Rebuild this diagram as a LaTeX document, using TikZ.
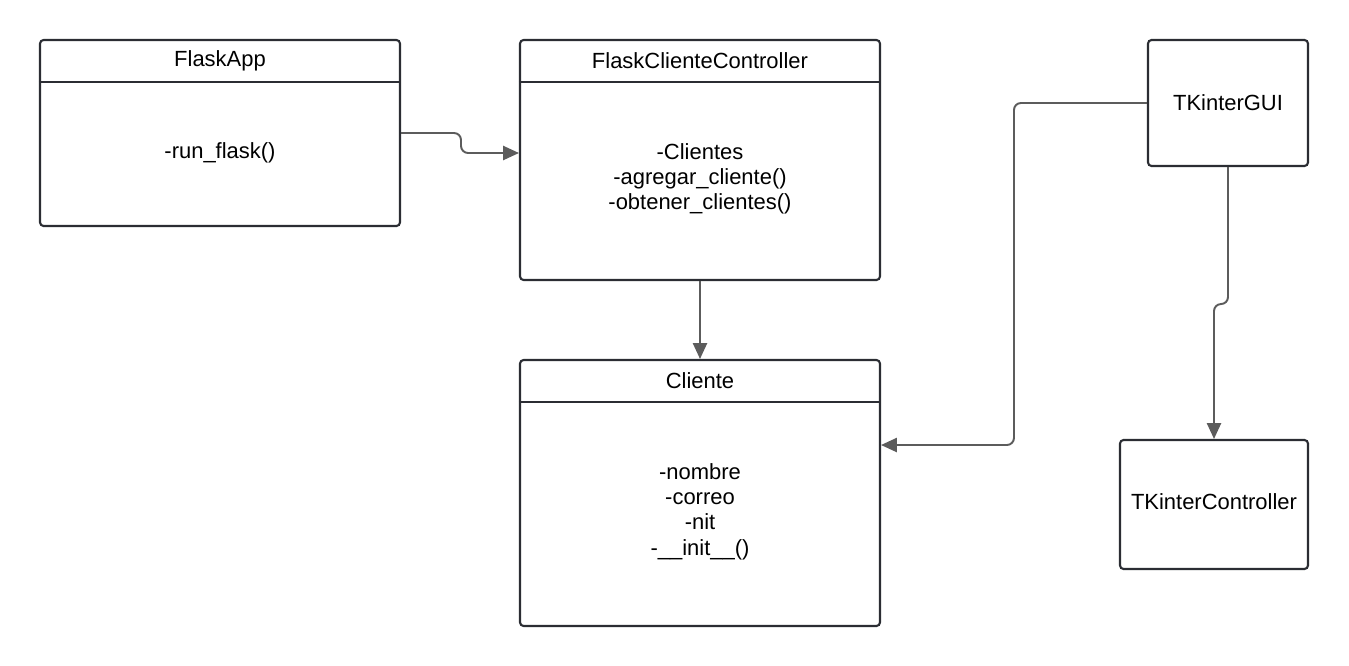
\documentclass[tikz,border=0pt]{standalone}
\usepackage{fontspec}
\setmainfont{Liberation Sans}
\usetikzlibrary{arrows.meta}

\definecolor{boxline}{HTML}{2B2D33}
\definecolor{linkgray}{HTML}{5C5C5C}

\tikzset{
  classbox/.style = {draw = boxline, line width = 1.2pt, rounded corners = 2pt, inner sep = 0pt},
  headline/.style = {draw = boxline, line width = 1.2pt},
  link/.style = {draw = linkgray, line width = 1.1pt, rounded corners = 4pt,
                 -{Triangle[length = 9pt, width = 8pt]}},
  txt/.style = {align = center, inner sep = 0pt, font = \fontsize{12.5}{14.4}\selectfont},
}

\begin{document}
\begin{tikzpicture} [x = 0.02cm, y = -0.02cm]
			\useasboundingbox (0,0) rectangle (1349,666);

			% classes
			\node [classbox, minimum width = 7.2cm, minimum height = 3.72cm] (flaskapp) at (220,133) {};
			\node [classbox, minimum width = 7.2cm, minimum height = 4.8cm] (controller) at (700,160) {};
			\node [classbox, minimum width = 7.2cm, minimum height = 5.32cm] (cliente) at (700,493) {};
			\node [classbox, minimum width = 3.2cm, minimum height = 2.52cm] (gui) at (1228,103) {};
			\node [classbox, minimum width = 3.76cm, minimum height = 2.58cm] (tkctrl) at (1214,504.5) {};

			\draw [headline] ([yshift = -0.86cm]flaskapp.north west) to ([yshift = -0.86cm]flaskapp.north east);
			\draw [headline] ([yshift = -0.86cm]controller.north west) to ([yshift = -0.86cm]controller.north east);
			\draw [headline] ([yshift = -0.86cm]cliente.north west) to ([yshift = -0.86cm]cliente.north east);

			\node [txt] (flaskapptitle) at ([yshift = -0.43cm]flaskapp.north) {FlaskApp};
			\node [txt] (controllertitle) at ([yshift = -0.43cm]controller.north) {FlaskClienteController};
			\node [txt] (clientetitle) at ([yshift = -0.43cm]cliente.north) {Cliente};

			\node [txt] (flaskappbody) at (220,153) {-run\_flask()};
			\node [txt] (controllerbody) at (700,179) {-Clientes\\-agregar\_cliente()\\-obtener\_clientes()};
			\node [txt] (clientebody) at (700,511.5) {-nombre\\-correo\\-nit\\-\_\_init\_\_()};
			\node [txt] (guititle) at (gui) {TKinterGUI};
			\node [txt] (tkctrltitle) at (1214,501.5) {TKinterController};

			% connectors
			\coordinate (ctrlin) at ([yshift = 0.14cm]controller.west);
			\coordinate (clientein) at ([yshift = 0.96cm]cliente.east);

			\draw [link] (flaskapp.east) -- ++(60,0) -- ++(0,20) -- (ctrlin);
			\draw [link] (controller.south) -- (cliente.north);
			\draw [link] (gui.west) -- ++(-133,0) |- (clientein);
			\draw [link] (gui.south) -- ++(0,137) -| (tkctrl.north);
		\end{tikzpicture}
\end{document}
